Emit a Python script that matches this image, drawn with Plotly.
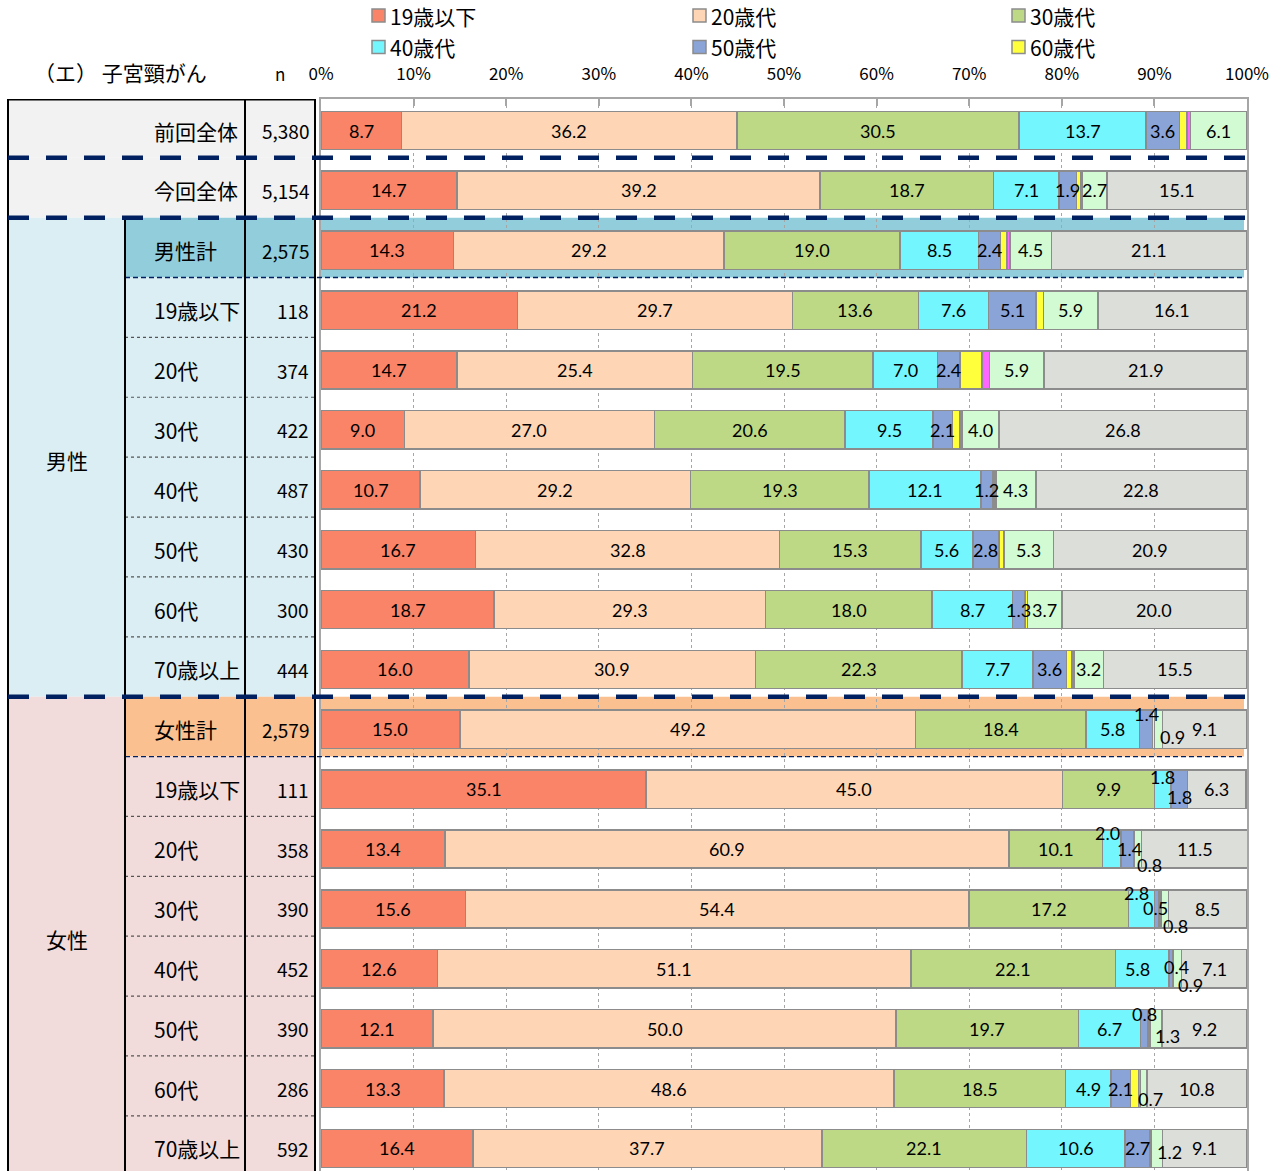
import plotly.graph_objects as go

W, H = 1283, 1171

# ---------------- data ----------------
row_labels = ["前回全体", "今回全体", "男性計", "19歳以下", "20代", "30代", "40代", "50代", "60代", "70歳以上",
              "女性計", "19歳以下", "20代", "30代", "40代", "50代", "60代", "70歳以上"]
n_labels = ["5,380", "5,154", "2,575", "118", "374", "422", "487", "430", "300", "444",
            "2,579", "111", "358", "390", "452", "390", "286", "592"]
group_labels = ["男性", "女性"]
title_text = "（エ） 子宮頸がん"

series_names = ["19歳以下", "20歳代", "30歳代", "40歳代", "50歳代", "60歳代", "70歳以上", "その他", "無回答"]
s_under19 = [8.7, 14.7, 14.3, 21.2, 14.7, 9.0, 10.7, 16.7, 18.7, 16.0, 15.0, 35.1, 13.4, 15.6, 12.6, 12.1, 13.3, 16.4]
s_20s = [36.2, 39.2, 29.2, 29.7, 25.4, 27.0, 29.2, 32.8, 29.3, 30.9, 49.2, 45.0, 60.9, 54.4, 51.1, 50.0, 48.6, 37.7]
s_30s = [30.5, 18.7, 19.0, 13.6, 19.5, 20.6, 19.3, 15.3, 18.0, 22.3, 18.4, 9.9, 10.1, 17.2, 22.1, 19.7, 18.5, 22.1]
s_40s = [13.7, 7.1, 8.5, 7.6, 7.0, 9.5, 12.1, 5.6, 8.7, 7.7, 5.8, 1.8, 2.0, 2.8, 5.8, 6.7, 4.9, 10.6]
s_50s = [3.6, 1.9, 2.4, 5.1, 2.4, 2.1, 1.2, 2.8, 1.3, 3.6, 1.4, 1.8, 1.4, 0.5, 0.4, 0.8, 2.1, 2.7]
s_60s = [0.8, 0.4, 0.7, 0.8, 2.4, 0.8, 0.2, 0.5, 0.3, 0.6, 0.2, 0.0, 0.0, 0.2, 0.0, 0.2, 0.9, 0.2]
s_70plus = [0.4, 0.2, 0.3, 0.0, 0.8, 0.2, 0.2, 0.1, 0.0, 0.2, 0.0, 0.0, 0.0, 0.0, 0.0, 0.0, 0.2, 0.0]
s_other = [6.1, 2.7, 4.5, 5.9, 5.9, 4.0, 4.3, 5.3, 3.7, 3.2, 0.9, 0.0, 0.8, 0.8, 0.9, 1.3, 0.7, 1.2]
s_na = [0.0, 15.1, 21.1, 16.1, 21.9, 26.8, 22.8, 20.9, 20.0, 15.5, 9.1, 6.3, 11.5, 8.5, 7.1, 9.2, 10.8, 9.1]
series_values = [s_under19, s_20s, s_30s, s_40s, s_50s, s_60s, s_70plus, s_other, s_na]

tick_values = list(range(0, 101, 10))
tick_labels = [f"{v}%" for v in tick_values]

# ---------------- style ----------------
colors = ["#FA8467", "#FFD6B5", "#BDD985", "#74F6FF", "#8AA4D8", "#FFFF3C", "#FF66FF", "#D3FBD3", "#DCDEDA"]
labeled_series = [0, 1, 2, 3, 4, 7, 8]
legend_count = 6
# (row, series) -> (dx px, dy px) manual label offsets
label_offsets = {
    (10, 4): (0, 15), (10, 7): (14, -8),
    (11, 3): (0, 12), (11, 4): (0, -8),
    (12, 3): (-4, 16), (12, 4): (2, 0), (12, 7): (12, -16),
    (13, 3): (-5, 16), (13, 4): (-1, 1), (13, 7): (11, -17),
    (14, 3): (-5, 0), (14, 4): (5, 2), (14, 7): (13, -16),
    (15, 4): (0, 15), (15, 7): (12, -7),
    (16, 7): (7, -10),
    (17, 7): (12, -4),
}

JP = "Noto Sans CJK JP"
NUM = "Lato"
NAVY = "#002060"

ROW0_PX, PITCH, TOP_PX = 130.5, 59.88, 99
y_top = (TOP_PX - ROW0_PX) / PITCH
y_bot = (H - ROW0_PX) / PITCH


def px(x):
    return x / W


def py(y):
    return 1 - y / H


def bnd(i):
    # boundary between row i and row i+1
    return i + 0.5 - 0.045


positions = list(range(len(row_labels)))

fig = go.Figure()
for k, (name, vals) in enumerate(zip(series_names, series_values)):
    fig.add_trace(go.Bar(
        name=name, y=positions, x=vals, orientation="h", width=0.64,
        marker=dict(color=colors[k], line=dict(color="#8C8C8C", width=1.5)),
        showlegend=False, hovertemplate=name + ": %{x}<extra></extra>",
    ))

shapes = []
ann = []


def rect(x0, x1, y0, y1, color, yref="y", layer="below"):
    shapes.append(dict(type="rect", xref="paper", yref=yref, x0=px(x0), x1=px(x1),
                       y0=y0, y1=y1, fillcolor=color, line=dict(width=0), layer=layer))


def hline(x0, x1, y, color, width, dash="solid"):
    shapes.append(dict(type="line", xref="paper", yref="y", x0=px(x0), x1=px(x1),
                       y0=y, y1=y, line=dict(color=color, width=width, dash=dash), layer="above"))


def vline(x, y0, y1, color, width):
    shapes.append(dict(type="line", xref="paper", yref="y", x0=px(x), x1=px(x),
                       y0=y0, y1=y1, line=dict(color=color, width=width), layer="above"))


male_rows = range(2, 10)
female_rows = range(10, 18)
bottom = y_bot + 0.2

# table backgrounds
rect(8, 315, y_top, bnd(0), "#F2F2F2")
rect(8, 315, bnd(0), bnd(1), "#F2F2F2")
rect(8, 125, bnd(1), bnd(9), "#DAEEF3")
rect(125, 315, bnd(1), bnd(2), "#92CDDC")
rect(125, 315, bnd(2), bnd(9), "#DAEEF3")
rect(8, 125, bnd(9), bottom, "#F2DCDB")
rect(125, 315, bnd(9), bnd(10), "#FAC090")
rect(125, 315, bnd(10), bottom, "#F2DCDB")
# total bands inside plot
rect(321, 1244, bnd(1), bnd(2), "#92CDDC")
rect(321, 1244, bnd(9), bnd(10), "#FAC090")

# dotted separators between sub rows
for i in list(range(3, 9)) + list(range(11, 17)):
    hline(125, 315, bnd(i), "#555555", 1.2, "dot")
# thin dashed navy lines below totals
hline(125, 1243, bnd(2), NAVY, 1.3, "5px,3px")
hline(125, 1243, bnd(10), NAVY, 1.3, "5px,3px")
# table frame
hline(8, 315, y_top + 0.01, "#000000", 2)
vline(8, y_top, bottom, "#000000", 2)
vline(245, y_top, bottom, "#000000", 2)
vline(315, y_top, bottom, "#000000", 2)
vline(125, bnd(1), bottom, "#000000", 2)
# thick dashed navy lines
for i in (0, 1, 9):
    hline(8, 1251, bnd(i), NAVY, 4.5, "21px,17px")

# legend (first six series)
leg_x = [372, 693, 1012]
leg_y = [15.5, 47]
for k in range(legend_count):
    cx = leg_x[k % 3]
    cy = leg_y[k // 3]
    shapes.append(dict(type="rect", xref="paper", yref="paper", x0=px(cx), x1=px(cx + 13),
                       y0=py(cy + 6.5), y1=py(cy - 6.5), fillcolor=colors[k],
                       line=dict(color="#8C8C8C", width=1.5)))
    ann.append(dict(xref="paper", yref="paper", x=px(cx + 16), y=py(cy), text=series_names[k],
                    xanchor="left", yanchor="middle", showarrow=False,
                    font=dict(family=JP, size=21, color="#000000")))

# header texts
ann.append(dict(xref="paper", yref="paper", x=px(32), y=py(72), text=title_text, xanchor="left",
                yanchor="middle", showarrow=False, font=dict(family=JP, size=21, color="#000000")))
ann.append(dict(xref="paper", yref="paper", x=px(280), y=py(73), text="n", xanchor="center",
                yanchor="middle", showarrow=False, font=dict(family=JP, size=17, color="#000000")))

# row labels and n
for i, (lab, n) in enumerate(zip(row_labels, n_labels)):
    if i < 2:
        ann.append(dict(xref="paper", yref="y", x=px(240), y=i, text=lab, xanchor="right",
                        yanchor="middle", showarrow=False, font=dict(family=JP, size=21, color="#000000")))
    else:
        ann.append(dict(xref="paper", yref="y", x=px(152), y=i, text=lab, xanchor="left",
                        yanchor="middle", showarrow=False, font=dict(family=JP, size=21, color="#000000")))
    ann.append(dict(xref="paper", yref="y", x=px(311), y=i, text=n, xanchor="right",
                    yanchor="middle", showarrow=False, font=dict(family=JP, size=19, color="#000000")))

ann.append(dict(xref="paper", yref="y", x=px(67), y=(male_rows[0] + male_rows[-1]) / 2, text=group_labels[0],
                xanchor="center", yanchor="middle", showarrow=False, font=dict(family=JP, size=21, color="#000000")))
ann.append(dict(xref="paper", yref="y", x=px(67), y=(female_rows[0] + female_rows[-1]) / 2, text=group_labels[1],
                xanchor="center", yanchor="middle", showarrow=False, font=dict(family=JP, size=21, color="#000000")))

# bar value labels
for i in positions:
    cum = 0.0
    for k, vals in enumerate(series_values):
        v = vals[i]
        if k in labeled_series and v > 0:
            dx, dy = label_offsets.get((i, k), (0, 0))
            ann.append(dict(xref="x", yref="y", x=cum + v / 2, y=i, text=f"{v:.1f}",
                            xshift=dx, yshift=dy, showarrow=False, xanchor="center", yanchor="middle",
                            font=dict(family=NUM, size=18, color="#000000")))
        cum += v

fig.update_layout(
    width=W, height=H, margin=dict(l=0, r=0, t=0, b=0, autoexpand=False),
    paper_bgcolor="#FFFFFF", plot_bgcolor="#FFFFFF",
    barmode="stack", showlegend=False,
    shapes=shapes, annotations=ann,
    xaxis=dict(domain=[px(321), px(1247)], range=[0, 100], side="top", automargin=False,
               tickmode="array", tickvals=tick_values, ticktext=tick_labels,
               ticks="inside", ticklen=7, tickwidth=1.5, tickcolor="#A6A6A6",
               showline=True, linecolor="#A6A6A6", linewidth=2,
               showgrid=True, gridcolor="#A6A6A6", griddash="dot", gridwidth=1,
               zeroline=False, ticklabelstandoff=10,
               tickfont=dict(family=JP, size=17, color="#000000")),
    yaxis=dict(domain=[0, py(TOP_PX)], range=[y_bot, y_top], showticklabels=False, automargin=False,
               showgrid=False, zeroline=False, showline=True, mirror=True,
               linecolor="#A6A6A6", linewidth=2, ticks=""),
)

fig.write_html("out.html", config={"displayModeBar": False},
               post_script="document.body.style.margin='0';document.body.style.overflow='hidden';")
